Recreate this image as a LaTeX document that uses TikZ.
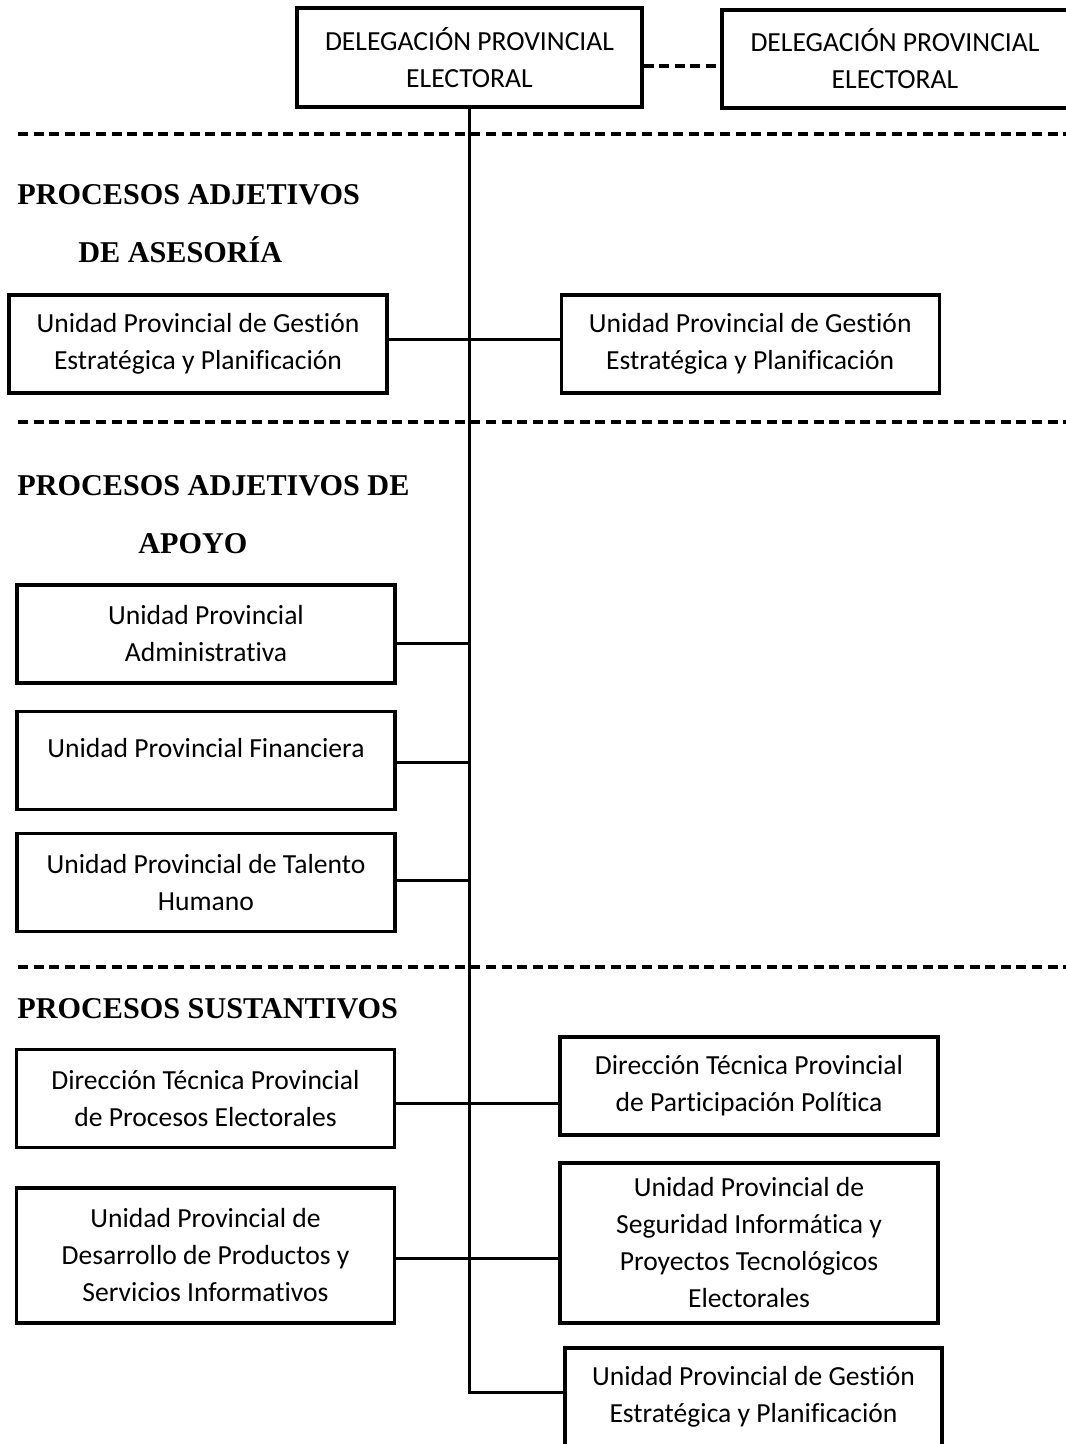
\documentclass[tikz,border=0pt]{standalone}
\usepackage{fontspec}
\setmainfont{Carlito}[Ligatures=NoCommon]
\newfontfamily\titfont{Liberation Serif}
\usetikzlibrary{positioning}
\newcommand{\cajafont}{\fontsize{13.8pt}{18.5pt}\selectfont}
\newcommand{\titulofont}{\titfont\bfseries\fontsize{15.1pt}{18pt}\selectfont}

\begin{document}
\begin{tikzpicture}[x=0.5pt,y=-0.5pt,
    caja/.style={draw,line width=1.6pt,align=center,inner sep=2pt,font=\cajafont,
        minimum width=189pt,minimum height=49pt},
    titulo/.style={anchor=base west,inner sep=0pt,font=\titulofont},
    linea/.style={line width=1.5pt},
    separa/.style={line width=2pt,dash pattern=on 5pt off 2.8pt}]
            \useasboundingbox (0,0) rectangle (1065,1444);

            % lineas de separacion entre procesos
            \foreach \yy in {134,422,967}
                \draw[separa] (18,\yy) -- (1075,\yy);

            % nivel directivo
            \node[caja,minimum width=172.5pt,minimum height=49.5pt] (del1) at (469.5,57.5) {DELEGACIÓN PROVINCIAL\\ELECTORAL};
            \node[caja,minimum width=185pt] (del2) at (907,59) {DELEGACIÓN PROVINCIAL\hspace*{12pt}\\ELECTORAL\hspace*{12pt}};

            % procesos adjetivos de asesoria
            \node[titulo] (tAses1) at (17,205) {PROCESOS ADJETIVOS};
            \node[titulo] (tAses2) at (78,263) {DE ASESORÍA};
            \node[caja] (asesL) at (198,344) {Unidad Provincial de Gestión\\Estratégica y Planificación};
            \node[caja,right=85.5pt of asesL] (asesR) {Unidad Provincial de Gestión\\Estratégica y Planificación};

            % procesos adjetivos de apoyo
            \node[titulo] (tApoyo1) at (17,495) {PROCESOS ADJETIVOS DE};
            \node[titulo] (tApoyo2) at (138,553) {APOYO};
            \node[caja] (admin) at (206,634) {Unidad Provincial\\Administrativa};
            \node[caja,below=12.5pt of admin] (fin) {\raisebox{12pt}{Unidad Provincial Financiera}};
            \node[caja,below=10.5pt of fin] (tal) {Unidad Provincial de Talento\\Humano};

            % procesos sustantivos
            \node[titulo] (tSust) at (17,1018) {PROCESOS SUSTANTIVOS};
            \node[caja] (dirProc) at (205.5,1098.5) {Dirección Técnica Provincial\\de Procesos Electorales};
            \node[caja] (dirPart) at (749,1086) {Dirección Técnica Provincial\\de Participación Política};
            \node[caja,minimum height=67.5pt] (desarr) at (205.5,1255.5) {Unidad Provincial de\\Desarrollo de Productos y\\Servicios Informativos};
            \node[caja,minimum height=80pt] (segur) at (749,1243) {Unidad Provincial de\\Seguridad Informática y\\Proyectos Tecnológicos\\Electorales};
            \node[caja,minimum width=188.5pt] (gest2) at (753.5,1397) {Unidad Provincial de Gestión\\Estratégica y Planificación};

            % conectores
            \draw[separa] ([yshift=-4.5pt]del1.east) coordinate (d1) -- (d1 -| del2.west);
            \draw[linea] (del1.south) -- ++(0,1284) coordinate (finEje) -- (finEje -| gest2.west);
            \draw[linea] ([yshift=2pt]asesL.east) coordinate (a1) -- (a1 -| asesR.west);
            \draw[linea] ([yshift=-4.5pt]admin.east) coordinate (a2) -- (a2 -| del1.south);
            \draw[linea] ([yshift=-1pt]fin.east) coordinate (a3) -- (a3 -| del1.south);
            \draw[linea] ([yshift=1pt]tal.east) coordinate (a4) -- (a4 -| del1.south);
            \draw[linea] ([yshift=-2.25pt]dirProc.east) coordinate (a5) -- (a5 -| dirPart.west);
            \draw[linea] ([yshift=-1.25pt]desarr.east) coordinate (a6) -- (a6 -| segur.west);
        \end{tikzpicture}
\end{document}
